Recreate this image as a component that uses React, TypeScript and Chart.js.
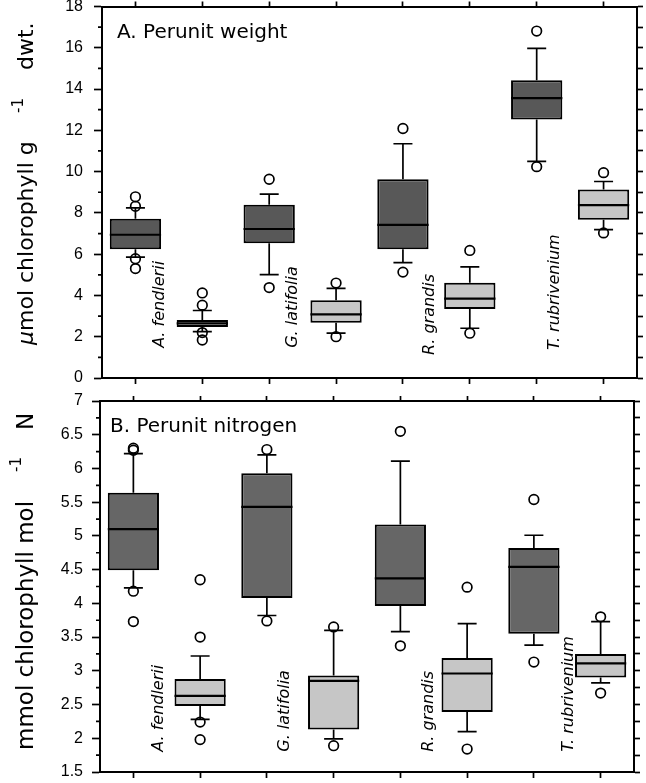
import React, { useEffect, useRef } from "react";
import { Chart, registerables } from "chart.js";

Chart.register(...registerables);

// ---------- categories ----------
const slots = ["s1", "s2", "s3", "s4", "s5", "s6", "s7", "s8"];
const species = ["A. fendlerii", "G. latifolia", "R. grandis", "T. rubrivenium"];

// ---------- Panel A: per unit weight (µmol chlorophyll g-1 dwt.) ----------
const weightQ1 = [6.24, 2.47, 6.53, 2.68, 6.24, 3.34, 12.52, 7.67];
const weightQ3 = [7.71, 2.81, 8.40, 3.77, 9.63, 4.62, 14.43, 9.13];
const weightMedian = [6.94, 2.65, 7.22, 3.08, 7.42, 3.85, 13.56, 8.38];
const weightWhiskerLow = [5.86, 2.25, 5.01, 2.17, 5.59, 2.41, 10.5, 7.19];
const weightWhiskerHigh = [8.24, 3.27, 8.91, 4.34, 11.35, 5.38, 15.97, 9.52];
const weightOutliers = [
  [8.78, 8.32, 5.78, 5.3],
  [4.12, 3.53, 2.2, 1.84],
  [9.63, 4.38],
  [4.6, 2.0],
  [12.09, 5.13],
  [6.18, 2.17],
  [16.81, 10.24],
  [9.95, 7.03],
];
const weightTickLabels = ["0", "2", "4", "6", "8", "10", "12", "14", "16", "18"];

// ---------- Panel B: per unit nitrogen (mmol chlorophyll mol-1 N) ----------
const nitrogenQ1 = [4.49, 2.48, 4.08, 2.13, 3.96, 2.39, 3.55, 2.9];
const nitrogenQ3 = [5.64, 2.88, 5.93, 2.93, 5.17, 3.19, 4.82, 3.25];
const nitrogenMedian = [5.1, 2.63, 5.43, 2.85, 4.37, 2.96, 4.54, 3.11];
const nitrogenWhiskerLow = [4.23, 2.28, 3.82, 1.99, 3.58, 2.1, 3.38, 2.82];
const nitrogenWhiskerHigh = [6.22, 3.22, 6.2, 3.6, 6.11, 3.7, 5.01, 3.73];
const nitrogenOutliers = [
  [6.3, 6.27, 4.18, 3.73],
  [4.35, 3.5, 2.24, 1.98],
  [6.28, 3.74],
  [3.65, 1.89],
  [6.55, 3.37],
  [4.24, 1.84],
  [5.54, 3.13],
  [3.8, 2.67],
];
const nitrogenTickLabels = ["1.5", "2", "2.5", "3", "3.5", "4", "4.5", "5", "5.5", "6", "6.5", "7"];

type PanelData = {
  q1: number[];
  q3: number[];
  med: number[];
  lo: number[];
  hi: number[];
  outliers: number[][];
  tickLabels: string[];
  min: number;
  max: number;
  step: number;
};

type PanelLayout = {
  height: number;
  leftW: number;
  rightW: number;
  topH: number;
  bottomH: number;
  tickPad: number;
  dark: string;
  light: string;
  title: string;
  titleDX: number;
  titleDY: number;
  axisItalic: string;
  axisMain: string;
  axisSup: string;
  axisTail: string;
  axisFont: number;
  supFont: number;
  axisBaseX: number;
  axisStartY: number;
  supAt: number;
  tailAt: number;
  supRaise: number;
  speciesShift: number[];
  speciesY: number[];
};

const weightData: PanelData = {
  q1: weightQ1,
  q3: weightQ3,
  med: weightMedian,
  lo: weightWhiskerLow,
  hi: weightWhiskerHigh,
  outliers: weightOutliers,
  tickLabels: weightTickLabels,
  min: 0,
  max: 18,
  step: 1,
};

const nitrogenData: PanelData = {
  q1: nitrogenQ1,
  q3: nitrogenQ3,
  med: nitrogenMedian,
  lo: nitrogenWhiskerLow,
  hi: nitrogenWhiskerHigh,
  outliers: nitrogenOutliers,
  tickLabels: nitrogenTickLabels,
  min: 1.5,
  max: 7,
  step: 0.25,
};

const layoutA: PanelLayout = {
  height: 390,
  leftW: 102,
  rightW: 9,
  topH: 5,
  bottomH: 12,
  tickPad: 11,
  dark: "#585858",
  light: "#c6c6c6",
  title: "A. Perunit weight",
  titleDX: 15,
  titleDY: 31,
  axisItalic: "\u03bc",
  axisMain: "mol chlorophyll g",
  axisSup: "-1",
  axisTail: "dwt.",
  axisFont: 22,
  supFont: 15,
  axisBaseX: 33,
  axisStartY: 345,
  supAt: 232,
  tailAt: 275,
  supRaise: 10,
  speciesShift: [0.36, 0.35, 0.4, 0.27],
  speciesY: [1.46, 1.46, 1.12, 1.36],
};

const layoutB: PanelLayout = {
  height: 393,
  leftW: 100,
  rightW: 12,
  topH: 11,
  bottomH: 11,
  tickPad: 9,
  dark: "#666666",
  light: "#c6c6c6",
  title: "B. Perunit nitrogen",
  titleDX: 10,
  titleDY: 31,
  axisItalic: "",
  axisMain: "mmol chlorophyll mol",
  axisSup: "-1",
  axisTail: "N",
  axisFont: 23,
  supFont: 15,
  axisBaseX: 33,
  axisStartY: 360,
  supAt: 278,
  tailAt: 320,
  supRaise: 12,
  speciesShift: [0.38, 0.27, 0.42, 0.53],
  speciesY: [1.8, 1.8, 1.8, 1.8],
};

function buildChart(canvas: HTMLCanvasElement, d: PanelData, L: PanelLayout) {
  const isMajor = (v: number) => d.tickLabels.includes(String(v));
  const outlierPoints = d.outliers.flatMap((vals, i) =>
    vals.map((v) => ({ x: slots[i], y: v }))
  );

  const plugin = {
    id: "boxParts",
    afterDatasetsDraw(chart: any) {
      const ctx = chart.ctx as CanvasRenderingContext2D;
      const xs = chart.scales.x;
      const ys = chart.scales.y;
      const meta = chart.getDatasetMeta(0);
      ctx.save();
      ctx.strokeStyle = "#000";
      ctx.lineCap = "butt";
      for (let i = 0; i < slots.length; i++) {
        const x = xs.getPixelForValue(i);
        const half = (meta.data[i] as any).width / 2;
        const yQ1 = ys.getPixelForValue(d.q1[i]);
        const yQ3 = ys.getPixelForValue(d.q3[i]);
        const yLo = ys.getPixelForValue(d.lo[i]);
        const yHi = ys.getPixelForValue(d.hi[i]);
        const yMed = ys.getPixelForValue(d.med[i]);
        const cap = 9.5;
        ctx.lineWidth = 1.7;
        ctx.beginPath();
        ctx.moveTo(x, yQ3);
        ctx.lineTo(x, yHi);
        ctx.moveTo(x - cap, yHi);
        ctx.lineTo(x + cap, yHi);
        ctx.moveTo(x, yQ1);
        ctx.lineTo(x, yLo);
        ctx.moveTo(x - cap, yLo);
        ctx.lineTo(x + cap, yLo);
        ctx.stroke();
        ctx.lineWidth = 2.2;
        ctx.beginPath();
        ctx.moveTo(x - half, yMed);
        ctx.lineTo(x + half, yMed);
        ctx.stroke();
      }
      ctx.restore();
    },
    afterDraw(chart: any) {
      const ctx = chart.ctx as CanvasRenderingContext2D;
      const xs = chart.scales.x;
      const ys = chart.scales.y;
      const ca = chart.chartArea;
      ctx.save();
      // minor ticks on left axis
      ctx.strokeStyle = "#000";
      ctx.lineWidth = 1.7;
      ctx.beginPath();
      for (const t of ys.ticks) {
        if (!isMajor(t.value)) {
          const y = ys.getPixelForValue(t.value);
          ctx.moveTo(ca.left - 4, y);
          ctx.lineTo(ca.left, y);
        }
      }
      ctx.stroke();

      ctx.fillStyle = "#000";
      // panel title
      ctx.textAlign = "left";
      ctx.textBaseline = "alphabetic";
      ctx.font = '20px "DejaVu Sans"';
      ctx.fillText(L.title, ca.left + L.titleDX, ca.top + L.titleDY);

      // species labels
      const slotW = xs.getPixelForValue(1) - xs.getPixelForValue(0);
      ctx.font = 'italic 16px "DejaVu Sans"';
      species.forEach((name, k) => {
        const x = xs.getPixelForValue(2 * k) + L.speciesShift[k] * slotW;
        const y = ys.getPixelForValue(L.speciesY[k]);
        ctx.save();
        ctx.translate(x, y);
        ctx.rotate(-Math.PI / 2);
        ctx.textAlign = "left";
        ctx.textBaseline = "middle";
        ctx.fillText(name, 0, 0);
        ctx.restore();
      });

      // y axis title
      ctx.save();
      ctx.translate(L.axisBaseX, L.axisStartY);
      ctx.rotate(-Math.PI / 2);
      ctx.textAlign = "left";
      ctx.textBaseline = "alphabetic";
      let p = 0;
      if (L.axisItalic) {
        ctx.font = `italic ${L.axisFont}px "DejaVu Sans"`;
        ctx.fillText(L.axisItalic, 0, 0);
        p = ctx.measureText(L.axisItalic).width;
      }
      ctx.font = `${L.axisFont}px "DejaVu Sans"`;
      ctx.fillText(L.axisMain, p, 0);
      ctx.font = `${L.supFont}px "DejaVu Sans"`;
      ctx.fillText(L.axisSup, L.supAt, -L.supRaise);
      ctx.font = `${L.axisFont}px "DejaVu Sans"`;
      ctx.fillText(L.axisTail, L.tailAt, 0);
      ctx.restore();

      ctx.restore();
    },
  };

  const border = { display: true, color: "#000", width: 2 };

  return new Chart(canvas, {
    type: "bar",
    data: {
      labels: slots,
      datasets: [
        {
          type: "bar",
          data: d.q1.map((q, i) => [q, d.q3[i]]) as any,
          backgroundColor: slots.map((_, i) => (i % 2 === 0 ? L.dark : L.light)),
          borderColor: "#000",
          borderWidth: 2,
          borderSkipped: false,
          barPercentage: 0.767,
          categoryPercentage: 1,
          xAxisID: "x",
          yAxisID: "y",
        },
        {
          type: "line",
          data: outlierPoints as any,
          showLine: false,
          pointRadius: 4.8,
          pointHoverRadius: 4.8,
          pointBackgroundColor: "rgba(0,0,0,0)",
          pointBorderColor: "#000",
          pointBorderWidth: 1.7,
          order: -1,
          xAxisID: "x",
          yAxisID: "y",
        },
      ],
    },
    options: {
      responsive: false,
      animation: false,
      events: [],
      layout: { padding: 0 },
      plugins: { legend: { display: false }, tooltip: { enabled: false } },
      scales: {
        x: {
          type: "category",
          position: "bottom",
          offset: true,
          grid: {
            offset: false,
            drawOnChartArea: false,
            drawTicks: true,
            tickLength: 6,
            color: "#000",
            tickColor: "#000",
            tickWidth: 1.7,
          },
          border,
          ticks: { display: false },
          afterFit: (s: any) => {
            s.height = L.bottomH;
            s.paddingLeft = 0;
            s.paddingRight = 0;
          },
        },
        x2: {
          type: "category",
          position: "top",
          offset: true,
          grid: {
            offset: false,
            drawOnChartArea: false,
            drawTicks: true,
            tickLength: 5,
            color: "#000",
            tickColor: "#000",
            tickWidth: 1.7,
          },
          border,
          ticks: { display: false },
          afterFit: (s: any) => {
            s.height = L.topH;
            s.paddingLeft = 0;
            s.paddingRight = 0;
          },
        },
        y: {
          type: "linear",
          position: "left",
          min: d.min,
          max: d.max,
          ticks: {
            stepSize: d.step,
            autoSkip: false,
            callback: (v: any) => (isMajor(Number(v)) ? String(v) : ""),
            font: { family: "Liberation Sans", size: 16 },
            color: "#000",
            padding: L.tickPad,
          },
          grid: {
            drawOnChartArea: false,
            tickLength: 8,
            tickWidth: 1.7,
            color: "#000",
            tickColor: (c: any) =>
              c.tick && isMajor(c.tick.value) ? "#000" : "rgba(0,0,0,0)",
          },
          border,
          afterFit: (s: any) => {
            s.width = L.leftW;
            s.paddingTop = 0;
            s.paddingBottom = 0;
          },
        },
        y2: {
          type: "linear",
          position: "right",
          min: d.min,
          max: d.max,
          ticks: { stepSize: d.step, autoSkip: false, display: false },
          grid: {
            drawOnChartArea: false,
            tickLength: 6,
            tickWidth: 1.7,
            color: "#000",
            tickColor: "#000",
          },
          border,
          afterFit: (s: any) => {
            s.width = L.rightW;
            s.paddingTop = 0;
            s.paddingBottom = 0;
          },
        },
      },
    } as any,
    plugins: [plugin as any],
  });
}

export default function App() {
  const refA = useRef<HTMLCanvasElement>(null);
  const refB = useRef<HTMLCanvasElement>(null);

  useEffect(() => {
    const a = buildChart(refA.current as HTMLCanvasElement, weightData, layoutA);
    const b = buildChart(refB.current as HTMLCanvasElement, nitrogenData, layoutB);
    return () => {
      a.destroy();
      b.destroy();
    };
  }, []);

  return (
    <div
      style={{
        position: "absolute",
        left: 0,
        top: 0,
        width: 646,
        height: 783,
        background: "#fff",
        overflow: "hidden",
      }}
    >
      <canvas ref={refA} width={646} height={layoutA.height} style={{ display: "block" }} />
      <canvas ref={refB} width={646} height={layoutB.height} style={{ display: "block" }} />
    </div>
  );
}
